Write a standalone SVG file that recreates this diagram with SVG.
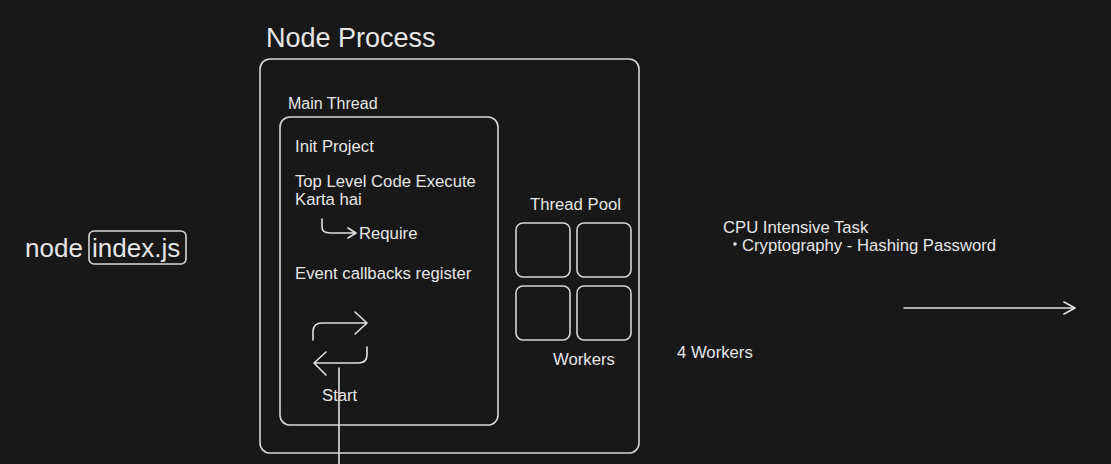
<svg xmlns="http://www.w3.org/2000/svg" width="1111" height="464" viewBox="0 0 1111 464">
<style>
.bg{fill:#181818}
.box{fill:none;stroke:#d6d6d6;stroke-width:1.6}
.ln{fill:none;stroke:#e0e0e0;stroke-width:1.6;stroke-linecap:round;stroke-linejoin:round}
text{font-family:"Liberation Sans",Arial,sans-serif;fill:#e6e6e6}
.t{font-size:16.7px}
</style>
<rect class="bg" x="0" y="0" width="1111" height="464"/>
<g id="cmd">
<text x="25" y="257" font-size="26">node</text>
<rect class="box" x="89" y="231" width="97" height="33" rx="5"/>
<text x="92" y="257" font-size="26">index.js</text>
</g>
<g id="node-process">
<text x="266" y="47" font-size="27">Node Process</text>
<rect class="box" x="260" y="59" width="379" height="394" rx="10"/>
</g>
<g id="main-thread">
<text class="t" x="288" y="109" style="font-size:16px">Main Thread</text>
<rect class="box" x="280" y="117" width="218" height="308" rx="10"/>
<text class="t" x="295" y="152">Init Project</text>
<text class="t" x="295" y="187">Top Level Code Execute</text>
<text class="t" x="295" y="205">Karta hai</text>
<text class="t" x="359" y="239">Require</text>
<text class="t" x="295" y="279">Event callbacks register</text>
<text class="t" x="322" y="401">Start</text>
</g>
<g id="thread-pool">
<text class="t" x="530" y="210">Thread Pool</text>
<rect class="box" x="516" y="223" width="54" height="54" rx="7"/>
<rect class="box" x="577" y="223" width="54" height="54" rx="7"/>
<rect class="box" x="516" y="286" width="54" height="54" rx="7"/>
<rect class="box" x="577" y="286" width="54" height="54" rx="7"/>
<text class="t" x="553" y="365">Workers</text>
</g>
<g id="cpu-task">
<text class="t" x="723" y="233">CPU Intensive Task</text>
<circle cx="735" cy="244" r="1.8" fill="#e6e6e6"/>
<text class="t" x="742" y="251">Cryptography - Hashing Password</text>
</g>
<g id="workers-note">
<text class="t" x="677" y="358">4 Workers</text>
</g>
<g id="connectors">
<path class="ln" d="M322 219 V227 Q322 233 330 233 H356 M348 228 L356 233 L348 238"/>
<path class="ln" d="M313 340 V332 Q313 323 322 323 H367 M355 312 L367 323 L355 334"/>
<path class="ln" d="M367 347 V355 Q367 363 358 363 H314 M326 352 L314 363 L326 375"/>
<path class="ln" d="M339 368 V464"/>
<path class="ln" d="M904 308 H1075 M1064 302 L1075 308 L1064 314"/>
</g>
</svg>
